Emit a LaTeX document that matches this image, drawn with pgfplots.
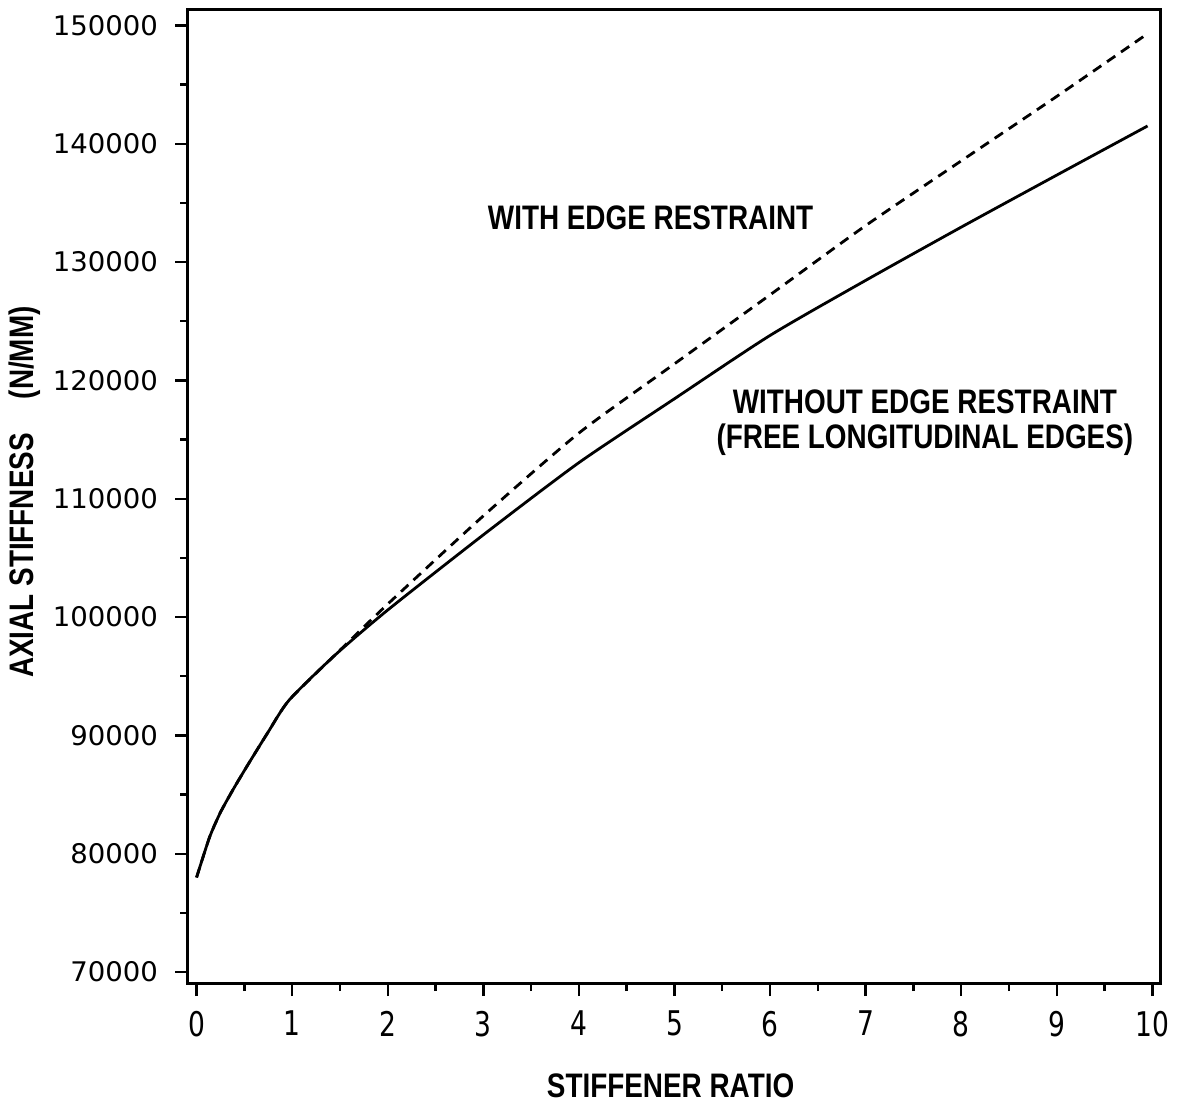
\documentclass[border=0pt]{standalone}
\usepackage{fontspec}
\usepackage{pgfplots}
\pgfplotsset{compat=1.18}
\setmainfont{DejaVu Sans}
\newfontfamily\labfont[FakeStretch=0.82]{Liberation Sans}
\newfontfamily\ytickfont[FakeStretch=1.02]{DejaVu Sans}
\newfontfamily\xtickfont[FakeStretch=0.78]{DejaVu Sans}
\newcommand\lab{\labfont\bfseries\fontsize{17}{19}\selectfont}
\begin{document}
\begin{tikzpicture}
\begin{axis}[
  name=ax,
  scale only axis,
  width=486.5pt, height=487pt,
  xmin=-0.1, xmax=10.08,
  ymin=69000, ymax=151300,
  xtick={0,1,...,10},
  ytick={70000,80000,...,150000},
  minor x tick num=1,
  minor y tick num=1,
  tick pos=left,
  tick align=outside,
  major tick length=6pt,
  minor tick length=3.5pt,
  every tick/.style={black, line width=1.2pt},
  axis line style={line width=1.5pt},
  scaled y ticks=false,
  /pgf/number format/fixed,
  /pgf/number format/precision=0,
  /pgf/number format/1000 sep={},
  /pgf/number format/assume math mode=true,
  xticklabel style={font=\xtickfont\fontsize{17}{19}\selectfont, yshift=-4pt},
  yticklabel style={font=\ytickfont\fontsize{13.5}{15}\selectfont, xshift=-5pt},
  xlabel={\lab STIFFENER RATIO},
  ylabel={\lab AXIAL STIFFNESS\quad(N/MM)},
  xlabel style={at={(axis description cs:0.497,-0.104)}, anchor=center},
  ylabel style={at={(axis description cs:-0.167,0.505)}, anchor=center},
  clip=false,
]
\addplot[black, line width=1.4pt, smooth, tension=0.4] coordinates {
(0,78000)(0.136,81400)(0.25,83500)(0.38,85400)(0.52,87300)(0.75,90300)(0.97,93000)
(1.45,96800)(2.0,100600)(3.0,106950)(4.0,113050)(5.0,118450)(6.0,123800)
(7.0,128450)(8.0,132950)(9.0,137350)(9.95,141500)
};
\addplot[black, line width=1.4pt, dash pattern=on 5pt off 3.5pt, smooth, tension=0.4] coordinates {
(0,78000)(0.136,81400)(0.25,83500)(0.38,85400)(0.52,87300)(0.75,90300)(0.97,93000)
(1.5,97200)(2.0,101100)(3.0,108550)(4.0,115550)(5.0,121400)(6.0,127230)
(7.0,133080)(8.0,138550)(9.0,144000)(9.95,149300)
};
\node[font=\lab] at (axis cs:4.75,133700) {WITH EDGE RESTRAINT};
\node[font=\labfont\bfseries\fontsize{17}{17.5}\selectfont, align=center] at (axis cs:7.62,116450) {WITHOUT EDGE RESTRAINT\\(FREE LONGITUDINAL EDGES)};
\end{axis}
\useasboundingbox ([xshift=-93.5pt,yshift=-60.5pt]ax.south west) rectangle ([xshift=10pt,yshift=5pt]ax.north east);
\end{tikzpicture}
\end{document}
